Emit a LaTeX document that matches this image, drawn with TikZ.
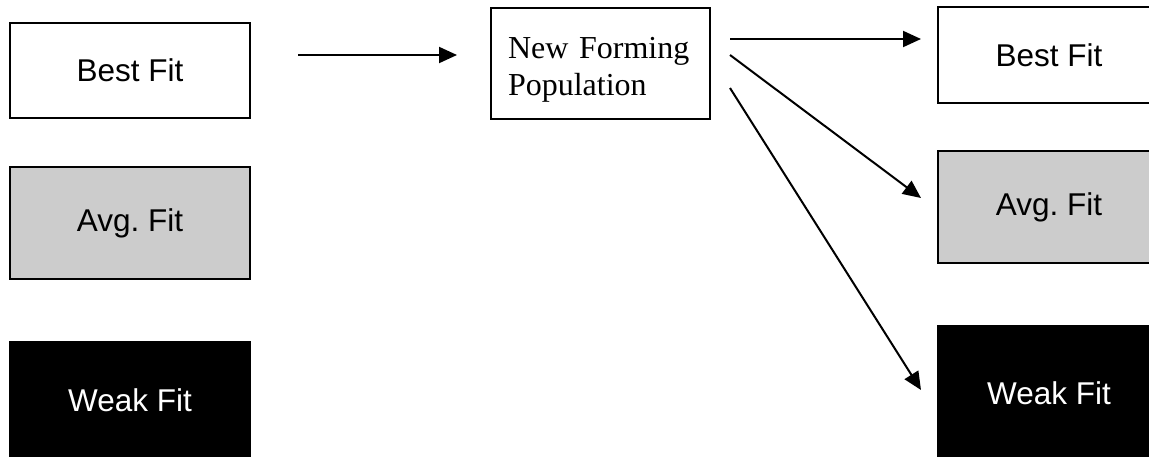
\documentclass[tikz,border=0pt]{standalone}
\usepackage{fontspec}
\setmainfont{Liberation Serif}
\setsansfont{Liberation Sans}
\usepackage{xcolor}
\usepackage{tikz}
\usetikzlibrary{shapes,arrows.meta,positioning}
\frenchspacing

\begin{document}
\begin{tikzpicture}[%
  x=1pt,y=-1pt,
  good/.style={draw=black,line width=2pt,fill=white,text=black,anchor=center,
    font=\sffamily\fontsize{31.5}{36}\selectfont},
  avg/.style={good,fill=black!20},
  weak/.style={good,fill=black,text=white},
  pop/.style={draw=black,line width=2pt,anchor=north west,align=left,
    minimum width=219pt,minimum height=111pt,inner xsep=17pt,text width=185pt,
    font=\rmfamily\fontsize{32}{37}\selectfont},
  link/.style={line width=2pt,-{Triangle[length=18pt,width=16pt]}}
]
  \useasboundingbox (0,0) rectangle (1149,456);
  \clip (0,0) rectangle (1149,456);

  % old population
  \node [good,minimum width=240pt,minimum height=95pt]  (lbest) at (130,70.5) {Best Fit};
  \node [avg,minimum width=240pt,minimum height=112pt]  (lavg)  at (130,223)  {Avg. Fit};
  \node [weak,minimum width=240pt,minimum height=116pt] (lweak) at (130,400)  {Weak Fit};

  % new forming population
  \node [pop] (nfp) at (490,7) {\rule{0pt}{33pt}New Forming\\Population};

  % new generation
  \node [good,minimum width=222pt,minimum height=96pt]  (rbest) at (1049,55)  {Best Fit};
  \node [avg,minimum width=222pt,minimum height=112pt]  (ravg)  at (1049,207) {Avg. Fit};
  \node [weak,minimum width=222pt,minimum height=134pt] (rweak) at (1049,393) {Weak Fit};

  \coordinate (in1)  at (298,55);
  \coordinate (in2)  at (457,55);
  \coordinate (out1) at (730,39);
  \coordinate (out2) at (730,55);
  \coordinate (out3) at (730,88);
  \coordinate (to1)  at (921,39);
  \coordinate (to2)  at (921,198);
  \coordinate (to3)  at (921,390);

  \draw [link] (in1) -- (in2);
  \draw [link] (out1) -- (to1);
  \draw [link] (out2) -- (to2);
  \draw [link] (out3) -- (to3);
\end{tikzpicture}
\end{document}
